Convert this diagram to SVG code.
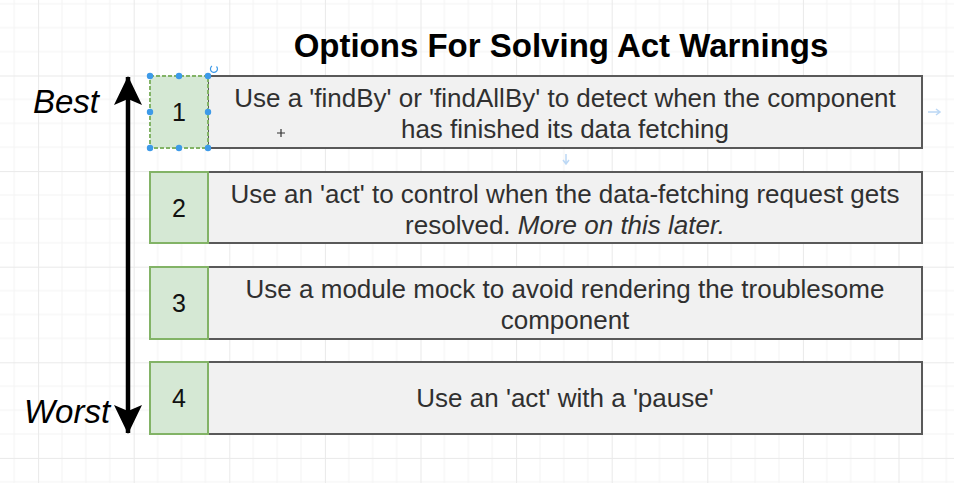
<svg xmlns="http://www.w3.org/2000/svg" width="954" height="483" viewBox="0 0 954 483">
<defs>
<pattern id="grid" patternUnits="userSpaceOnUse" x="38.1" y="75.5" width="95.6" height="95.6">
<path d="M23.9 0V95.6M47.8 0V95.6M71.7 0V95.6M0 23.9H95.6M0 47.8H95.6M0 71.7H95.6" stroke="#f3f3f3" stroke-width="1" fill="none"/>
<path d="M0.5 0V95.6M0 0.5H95.6" stroke="#e9e9e9" stroke-width="1" fill="none"/>
</pattern>
<marker id="ah" viewBox="0 0 30 30" refX="28" refY="15" markerWidth="30" markerHeight="30" markerUnits="userSpaceOnUse" orient="auto-start-reverse">
<path d="M0 1 L29 15 L0 29 L6 15 Z" fill="#000"/>
</marker>
</defs>
<style>
.num{fill:#d5e8d4;stroke:#82b366;stroke-width:2}
.box{fill:#f1f1f1;stroke:#595959;stroke-width:2}
.t{font-family:"Liberation Sans",Arial,sans-serif;font-size:26px;fill:#303030;text-anchor:middle}
.n{font-family:"Liberation Sans",Arial,sans-serif;font-size:25px;fill:#111;text-anchor:middle}
.side{font-family:"Liberation Sans",Arial,sans-serif;font-size:33px;font-style:italic;fill:#000;text-anchor:middle}
.h{fill:#3d9ae8}
</style>
<rect width="954" height="483" fill="#ffffff"/>
<rect width="954" height="483" fill="url(#grid)"/>
<text x="561" y="57" font-family="Liberation Sans,Arial,sans-serif" font-size="33" font-weight="bold" text-anchor="middle" fill="#000">Options For Solving Act Warnings</text>
<text class="side" x="66" y="113">Best</text>
<text class="side" x="67" y="423">Worst</text>
<g id="connectors">
<line x1="128" y1="77" x2="128" y2="433" stroke="#000" stroke-width="4.5" marker-start="url(#ah)" marker-end="url(#ah)"/>
</g>
<g id="node1">
<rect class="box" x="208" y="76" width="714" height="72"/>
<rect class="num" x="150" y="76" width="58" height="72" stroke-dasharray="4 2"/>
<text class="n" x="179" y="121">1</text>
<text class="t" x="565" y="107">Use a 'findBy' or 'findAllBy' to detect when the component</text>
<text class="t" x="565" y="138">has finished its data fetching</text>
</g>
<g id="node2">
<rect class="box" x="208" y="172" width="714" height="71"/>
<rect class="num" x="150" y="172" width="58" height="71"/>
<text class="n" x="179" y="216.5">2</text>
<text class="t" x="565" y="202.5">Use an 'act' to control when the data-fetching request gets</text>
<text class="t" x="565" y="233.5">resolved. <tspan font-style="italic">More on this later.</tspan></text>
</g>
<g id="node3">
<rect class="box" x="208" y="267" width="714" height="72"/>
<rect class="num" x="150" y="267" width="58" height="72"/>
<text class="n" x="179" y="312">3</text>
<text class="t" x="565" y="298">Use a module mock to avoid rendering the troublesome</text>
<text class="t" x="565" y="329">component</text>
</g>
<g id="node4">
<rect class="box" x="208" y="362" width="714" height="72"/>
<rect class="num" x="150" y="362" width="58" height="72"/>
<text class="n" x="179" y="407">4</text>
<text class="t" x="565" y="407">Use an 'act' with a 'pause'</text>
</g>
<g id="selection">
<circle class="h" cx="150" cy="76" r="3.2"/><circle class="h" cx="179" cy="76" r="3.2"/><circle class="h" cx="208" cy="76" r="3.2"/>
<circle class="h" cx="150" cy="112" r="3.2"/><circle class="h" cx="208" cy="112" r="3.2"/>
<circle class="h" cx="150" cy="148" r="3.2"/><circle class="h" cx="179" cy="148" r="3.2"/><circle class="h" cx="208" cy="148" r="3.2"/>
<path d="M216.5 66.5 A3.5 3.5 0 1 1 212 66" fill="none" stroke="#3d9ae8" stroke-width="1.2"/>
<path d="M928 112H940M936 109L940 112L936 115" fill="none" stroke="#bcd8f5" stroke-width="1.5"/>
<path d="M566 154V164M563 160L566 164L569 160" fill="none" stroke="#bcd8f5" stroke-width="1.5"/>
<path d="M281 129V137M277 133H285" stroke="#333" stroke-width="1.2"/>
</g>
</svg>
